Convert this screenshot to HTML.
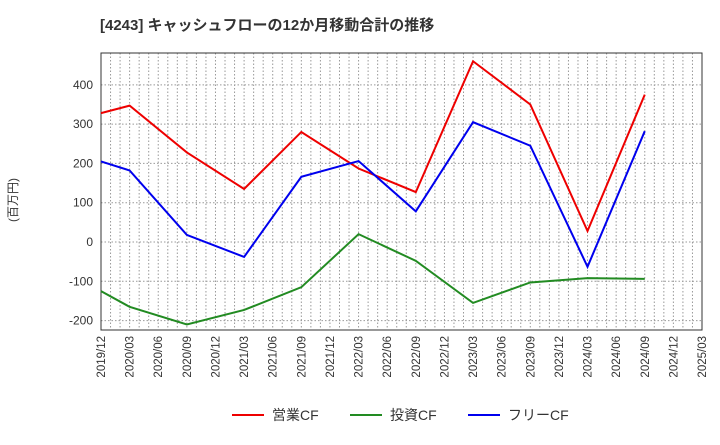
<!DOCTYPE html>
<html><head><meta charset="utf-8"><style>
body{margin:0;background:#fff;font-family:"Liberation Sans","Noto Sans CJK JP",sans-serif;}
</style></head><body>
<svg id="c" width="720" height="440" xmlns="http://www.w3.org/2000/svg" font-family="Liberation Sans, Noto Sans CJK JP, sans-serif">
<text x="100" y="30" font-size="15" font-weight="bold" fill="#333">[4243]  キャッシュフローの12か月移動合計の推移</text>
<text transform="translate(17,200) rotate(-90)" font-size="12" fill="#333" text-anchor="middle">(百万円)</text>
<g id="grid"></g><g id="axes"></g><g id="series"></g>
<g>
<line x1="232" y1="415" x2="264" y2="415" stroke="#e00" stroke-width="2"/>
<text x="272" y="420" font-size="14" fill="#333">営業CF</text>
<line x1="350" y1="415" x2="382" y2="415" stroke="#228b22" stroke-width="2"/>
<text x="390" y="420" font-size="14" fill="#333">投資CF</text>
<line x1="468" y1="415" x2="500" y2="415" stroke="#00e" stroke-width="2"/>
<text x="508" y="420" font-size="14" fill="#333">フリーCF</text>
</g>
</svg>
<script>
const xLabels=["2019/12","2020/03","2020/06","2020/09","2020/12","2021/03","2021/06","2021/09","2021/12","2022/03","2022/06","2022/09","2022/12","2023/03","2023/06","2023/09","2023/12","2024/03","2024/06","2024/09","2024/12","2025/03"];
const yTicks=[-200,-100,0,100,200,300,400];
const pointIdx=[0,1,3,5,7,9,11,13,15,17,19];
const operatingCF=[328,347,228,135,280,187,127,460,350,28,375];
const investingCF=[-125,-165,-210,-173,-115,20,-48,-155,-103,-92,-94];
const freeCF=[205,182,18,-38,166,206,78,305,245,-63,282];
const L=101,R=702,T=53,B=330,yMin=-224,yMax=481;
const nQ=xLabels.length-1;
const X=i=>L+(R-L)*i/nQ;
const Y=v=>B-(B-T)*(v-yMin)/(yMax-yMin);
const NS="http://www.w3.org/2000/svg";
function mk(t,a,p){const e=document.createElementNS(NS,t);for(const k in a)e.setAttribute(k,a[k]);p.appendChild(e);return e;}
const grid=document.getElementById('grid'),axes=document.getElementById('axes'),ser=document.getElementById('series');
for(let m=1;m<nQ*3;m++){const x=L+(R-L)*m/(nQ*3);const g=mk('line',{x1:x,x2:x,y1:T,y2:B,stroke:'#999','stroke-dasharray':'1.5,2','stroke-width':1},grid);
}
yTicks.forEach(v=>{const y=Y(v);const g=mk('line',{x1:L,x2:R,y1:y,y2:y,stroke:'#999','stroke-dasharray':'1.5,2'},grid);

const t=mk('text',{x:L-8,y:y+4,'font-size':12,fill:'#333','text-anchor':'end'},axes);t.textContent=v;
});
const fr=mk('rect',{x:L,y:T,width:R-L,height:B-T,fill:'none',stroke:'#333'},axes);

xLabels.forEach((l,i)=>{const x=X(i);const t=mk('text',{transform:`translate(${x+4},${B+6}) rotate(-90)`,'font-size':11.5,fill:'#333','text-anchor':'end'},axes);t.textContent=l;
});
[[operatingCF,'#e00','operating-cf-line'],[investingCF,'#228b22','investing-cf-line'],[freeCF,'#00e','free-cf-line']].forEach(([d,c,n])=>{
const pts=d.map((v,k)=>X(pointIdx[k])+','+Y(v)).join(' ');
const p=mk('polyline',{points:pts,fill:'none',stroke:c,'stroke-width':2},ser);
});
</script>
</body></html>
